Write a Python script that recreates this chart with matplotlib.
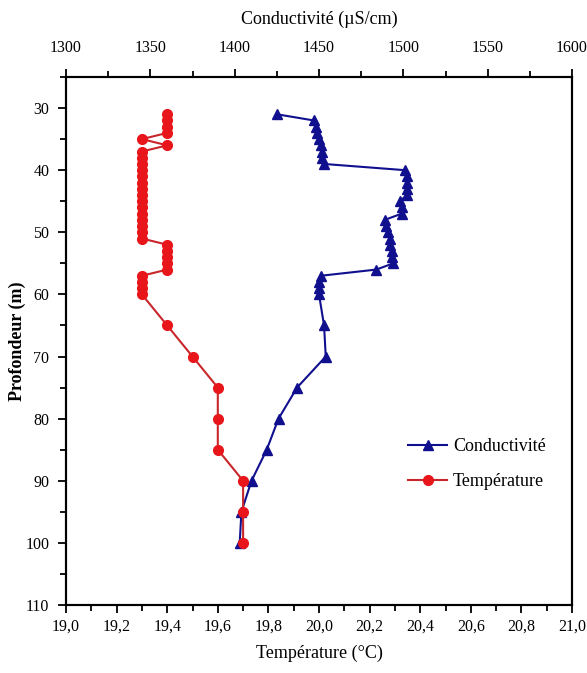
import numpy as np
import matplotlib
matplotlib.use("Agg")
import matplotlib.pyplot as plt
from matplotlib.ticker import MultipleLocator, FuncFormatter

plt.rcParams['font.family'] = ['Liberation Serif', 'DejaVu Serif']

# temperature profile
depth_t = [31, 32, 33, 34, 35, 36, 37, 38, 39, 40, 41, 42, 43, 44, 45, 46, 47, 48, 49, 50, 51,
           52, 53, 54, 55, 56, 57, 58, 59, 60, 65, 70, 75, 80, 85, 90, 95, 100]
temp = [19.4, 19.4, 19.4, 19.4, 19.3, 19.4, 19.3, 19.3, 19.3, 19.3, 19.3, 19.3, 19.3, 19.3, 19.3,
        19.3, 19.3, 19.3, 19.3, 19.3, 19.3, 19.4, 19.4, 19.4, 19.4, 19.4, 19.3, 19.3, 19.3, 19.3,
        19.4, 19.5, 19.6, 19.6, 19.6, 19.7, 19.7, 19.7]

# conductivity profile
depth_c = [31, 32, 33, 34, 35, 36, 37, 38, 39, 40, 41, 42, 43, 44, 45, 46, 47, 48, 49, 50, 51,
           52, 53, 54, 55, 56, 57, 58, 59, 60, 65, 70, 75, 80, 85, 90, 95, 100]
cond = [1425, 1447, 1448, 1449, 1450, 1451, 1452, 1452, 1453, 1501, 1502, 1502, 1502, 1502, 1498,
        1499, 1499, 1489, 1490, 1491, 1492, 1492, 1493, 1493, 1494, 1484, 1451, 1450, 1450, 1450,
        1453, 1454, 1437, 1426, 1419, 1410, 1404, 1403]

red = '#e8161b'
blue = '#10108f'

fig = plt.figure(figsize=(5.87, 6.73), dpi=100)
ax = fig.add_axes([66/587, 1 - 605/673, (572-66)/587, (605-77)/673])
ax2 = ax.twiny()

ln2, = ax2.plot(cond, depth_c, color=blue, marker='^', markersize=7, linewidth=1.5,
                label='Conductivité', zorder=2)
ln1, = ax.plot(temp, depth_t, color='#c8262a', marker='o', markersize=7, linewidth=1.5,
               markerfacecolor=red, markeredgecolor=red, label='Température', zorder=3)
ax.set_zorder(ax2.get_zorder() + 1)
ax.patch.set_visible(False)

ax.set_xlim(19.0, 21.0)
ax.set_ylim(110, 25)
ax2.set_xlim(1300, 1600)

ax.xaxis.set_major_locator(MultipleLocator(0.2))
ax.xaxis.set_minor_locator(MultipleLocator(0.1))
ax.xaxis.set_major_formatter(FuncFormatter(lambda v, p: f"{v:.1f}".replace('.', ',')))
ax.yaxis.set_minor_locator(MultipleLocator(5))
ax.set_yticks(np.arange(30, 111, 10))
ax2.xaxis.set_major_locator(MultipleLocator(50))
ax2.xaxis.set_minor_locator(MultipleLocator(25))

for a in (ax, ax2):
    for s in a.spines.values():
        s.set_linewidth(1.5)
ax.tick_params(axis='x', which='major', length=6, width=1.3, labelsize=11.5, pad=4)
ax.tick_params(axis='y', which='major', length=6, width=1.3, labelsize=11.5, pad=6)
ax.tick_params(which='minor', length=4, width=1.3)
ax2.tick_params(which='major', length=6, width=1.3, labelsize=11.5, pad=9)
ax2.tick_params(which='minor', length=4, width=1.3)

ax.set_xlabel('Température (°C)', fontsize=13, labelpad=7)
ax.set_ylabel('Profondeur (m)', fontsize=13, fontweight='bold')
ax.yaxis.set_label_coords(-0.08, 0.5)
ax2.set_xlabel('Conductivité (µS/cm)', fontsize=13, labelpad=12)

ax.legend([ln2, ln1], ['Conductivité', 'Température'], loc='center right',
          bbox_to_anchor=(0.98, 0.267), frameon=False, fontsize=13,
          handlelength=2.2, handletextpad=0.3, labelspacing=1.0)

fig.savefig('out.png', dpi=100)
